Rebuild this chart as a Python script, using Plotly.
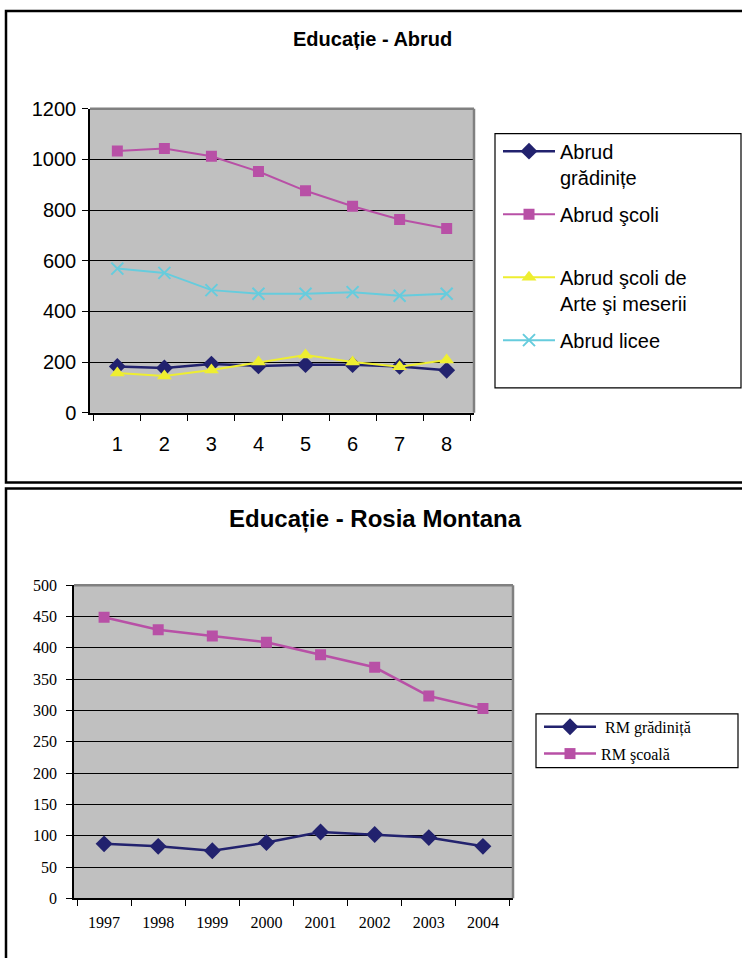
import plotly.graph_objects as go

# ---------------- data ----------------
abrud_x = ["1", "2", "3", "4", "5", "6", "7", "8"]
abrud_gradinite = [183, 177, 192, 185, 190, 190, 183, 168]
abrud_scoli = [1033, 1043, 1012, 952, 876, 815, 763, 727]
abrud_arte = [157, 145, 169, 200, 228, 200, 182, 208]
abrud_licee = [569, 552, 484, 470, 470, 476, 462, 470]

rm_years = ["1997", "1998", "1999", "2000", "2001", "2002", "2003", "2004"]
rm_gradinita = [87, 83, 76, 89, 106, 102, 97, 83]
rm_scoala = [449, 429, 419, 409, 389, 369, 323, 303]

# ---------------- styling ----------------
W, H = 742, 958
NAVY = "#22226E"
PINK = "#B850A6"
YELLOW = "#EEEE30"
CYAN = "#66CCDD"
SANS = "Liberation Sans, Arial, sans-serif"
SERIF = "Liberation Serif, Times New Roman, serif"


def px(x):
    return x / W


def py(y):
    # empirical correction for the capture's vertical offset/scale
    yf = (y - 9) / 0.98
    return 1 - yf / H


fig = go.Figure()

# top chart
fig.add_trace(go.Scatter(x=abrud_x, y=abrud_gradinite, name="Abrud<br>grădinițe",
                         mode="lines+markers", line=dict(color=NAVY, width=2.5),
                         marker=dict(symbol="diamond", size=13, color=NAVY),
                         xaxis="x", yaxis="y", legend="legend", legendgroup="a1"))
fig.add_trace(go.Scatter(x=abrud_x, y=abrud_scoli, name="Abrud şcoli<br>\u00a0",
                         mode="lines+markers", line=dict(color=PINK, width=2),
                         marker=dict(symbol="square", size=11, color=PINK),
                         xaxis="x", yaxis="y", legend="legend", legendgroup="a2"))
fig.add_trace(go.Scatter(x=abrud_x, y=abrud_arte, name="Abrud şcoli de<br>Arte şi meserii",
                         mode="lines+markers", line=dict(color=YELLOW, width=2),
                         marker=dict(symbol="triangle-up", size=13, color=YELLOW),
                         xaxis="x", yaxis="y", legend="legend", legendgroup="a3"))
fig.add_trace(go.Scatter(x=abrud_x, y=abrud_licee, name="Abrud licee<br>\u00a0",
                         mode="lines+markers", line=dict(color=CYAN, width=2),
                         marker=dict(symbol="x-thin", size=12, color=CYAN,
                                     line=dict(color=CYAN, width=2)),
                         xaxis="x", yaxis="y", legend="legend", legendgroup="a4"))

# bottom chart
fig.add_trace(go.Scatter(x=rm_years, y=rm_gradinita, name="\u00a0RM grădiniță",
                         mode="lines+markers", line=dict(color=NAVY, width=2.5),
                         marker=dict(symbol="diamond", size=13, color=NAVY),
                         xaxis="x2", yaxis="y2", legend="legend2", legendgroup="b1"))
fig.add_trace(go.Scatter(x=rm_years, y=rm_scoala, name="RM şcoală",
                         mode="lines+markers", line=dict(color=PINK, width=2.5),
                         marker=dict(symbol="square", size=11, color=PINK),
                         xaxis="x2", yaxis="y2", legend="legend2", legendgroup="b2"))

axis_common = dict(showline=True, linecolor="black", linewidth=1.5,
                   ticks="outside", tickcolor="black", ticklen=6, tickwidth=1)

shapes = []
# outer chart borders
shapes.append(dict(type="rect", xref="paper", yref="paper", x0=px(6), x1=px(760),
                   y0=py(482), y1=py(9), line=dict(color="black", width=2.5)))
shapes.append(dict(type="rect", xref="paper", yref="paper", x0=px(6), x1=px(760),
                   y0=py(985), y1=py(488), line=dict(color="black", width=2.5)))
# plot area gray frame (top & right)
for xr, yr in (("x", "y"), ("x2", "y2")):
    shapes.append(dict(type="line", xref=f"{xr} domain", yref=f"{yr} domain",
                       x0=0, x1=1, y0=1, y1=1, line=dict(color="#808080", width=2.5)))
    shapes.append(dict(type="line", xref=f"{xr} domain", yref=f"{yr} domain",
                       x0=1, x1=1, y0=0, y1=1, line=dict(color="#808080", width=2.5)))
# legend borders
shapes.append(dict(type="rect", xref="paper", yref="paper", x0=px(495), x1=px(741),
                   y0=py(387), y1=py(132), line=dict(color="black", width=1.2)))
shapes.append(dict(type="rect", xref="paper", yref="paper", x0=px(536), x1=px(738),
                   y0=py(768), y1=py(714), line=dict(color="black", width=1.2)))

fig.update_layout(
    width=W, height=H,
    margin=dict(l=0, r=0, t=0, b=0),
    paper_bgcolor="white",
    plot_bgcolor="#C0C0C0",
    xaxis=dict(domain=[px(90), px(474)], anchor="y", type="category",
               tickson="boundaries", showgrid=False,
               tickfont=dict(family=SANS, size=20, color="black"),
               ticklabelstandoff=12, **axis_common),
    yaxis=dict(domain=[py(412), py(107)], anchor="x", range=[0, 1200], dtick=200,
               showgrid=True, gridcolor="black", gridwidth=1, zeroline=False,
               tickfont=dict(family=SANS, size=20, color="black"),
               ticklabelstandoff=2, **axis_common),
    xaxis2=dict(domain=[px(74), px(513)], anchor="y2", type="category",
                tickson="boundaries", showgrid=False,
                tickfont=dict(family=SERIF, size=16, color="black"),
                ticklabelstandoff=9, **axis_common),
    yaxis2=dict(domain=[py(899), py(585)], anchor="x2", range=[0, 500], dtick=50,
                showgrid=True, gridcolor="black", gridwidth=1, zeroline=False,
                tickfont=dict(family=SERIF, size=16, color="black"),
                ticklabelstandoff=6, **axis_common),
    legend=dict(x=px(498), y=py(130), xanchor="left", yanchor="top",
                bgcolor="rgba(0,0,0,0)", borderwidth=0, itemwidth=52,
                valign="top", tracegroupgap=8,
                font=dict(family=SANS, size=20, color="black")),
    legend2=dict(x=px(539), y=py(710), xanchor="left", yanchor="top",
                 bgcolor="rgba(0,0,0,0)", borderwidth=0, itemwidth=52,
                 tracegroupgap=3,
                 font=dict(family=SERIF, size=16, color="black")),
    shapes=shapes,
    annotations=[
        dict(text="<b>Educație - Abrud</b>", xref="paper", yref="paper",
             x=px(372), y=py(37), xanchor="center", yanchor="middle", showarrow=False,
             font=dict(family=SANS, size=20, color="black")),
        dict(text="<b>Educație - Rosia Montana</b>", xref="paper", yref="paper",
             x=px(376), y=py(519), xanchor="center", yanchor="middle", showarrow=False,
             font=dict(family=SANS, size=24, color="black")),
    ],
)

fig.write_html("out.html",
               config={"displayModeBar": False},
               post_script="document.body.style.margin='0';"
                           "document.body.style.overflow='hidden';")
